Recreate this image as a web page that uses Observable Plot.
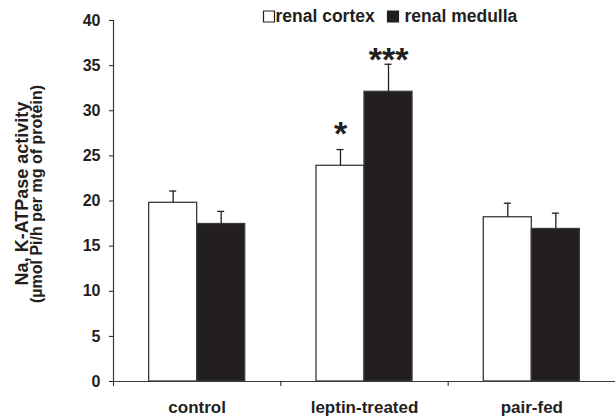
<!DOCTYPE html>
<html><head><meta charset="utf-8">
<script src="https://cdn.jsdelivr.net/npm/d3@7"></script>
<script src="https://cdn.jsdelivr.net/npm/@observablehq/plot@0.6"></script>
<style>
html,body{margin:0;padding:0;background:#fff;}
svg{display:block}
</style></head><body><div id="chart"></div>
<script>
const groups = ["control", "leptin-treated", "pair-fed"];
const seriesNames = ["renal cortex", "renal medulla"];
const cortexMean = [19.8, 23.9, 18.2];
const cortexSE = [1.3, 1.8, 1.55];
const medullaMean = [17.45, 32.1, 16.9];
const medullaSE = [1.4, 3.05, 1.75];
const cortexSig = ["", "*", ""];
const medullaSig = ["", "***", ""];
const yTicks = [0, 5, 10, 15, 20, 25, 30, 35, 40];
const yTitle = ["Na, K-ATPase activity", "(µmol Pi/h per mg of protein)"];

const ink = "#231f20";
const line = "#3a3a3a";
const HALF = 0.287;   // bar width, in category units
const CAP = 0.021;    // half cap width, in category units

const rows = groups.flatMap((g, i) => [
  {group: g, series: seriesNames[0], x1: i + 0.5 - HALF, x2: i + 0.5, mean: cortexMean[i], se: cortexSE[i], sig: cortexSig[i]},
  {group: g, series: seriesNames[1], x1: i + 0.5, x2: i + 0.5 + HALF, mean: medullaMean[i], se: medullaSE[i], sig: medullaSig[i]}
]);
rows.forEach(d => { d.xc = (d.x1 + d.x2) / 2; d.top = d.mean + d.se; });

const font = "'Liberation Sans', Arial, sans-serif";

const svg = Plot.plot({
  width: 615, height: 418,
  marginLeft: 113, marginRight: 0, marginTop: 20, marginBottom: 37,
  style: {fontFamily: font, fontWeight: "bold", color: ink, background: "white", overflow: "visible"},
  x: {type: "linear", domain: [0, groups.length], axis: null},
  y: {domain: [0, 40], axis: null},
  color: {domain: seriesNames, range: ["white", ink]},
  marks: [
    Plot.rect(rows, {x1: "x1", x2: "x2", y1: 0, y2: "mean", fill: "series", stroke: line, strokeWidth: 1.3}),
    Plot.ruleX(rows, {x: "xc", y1: "mean", y2: "top", stroke: ink, strokeWidth: 1.3}),
    Plot.ruleY(rows, {y: "top", x1: d => d.xc - CAP, x2: d => d.xc + CAP, stroke: ink, strokeWidth: 1.3}),
    Plot.text(rows.filter(d => d.series === seriesNames[0]), {x: "xc", y: "top", text: "sig", dy: -15, fontSize: 34, fill: ink}),
    Plot.text(rows.filter(d => d.series === seriesNames[1]), {x: "xc", y: "top", text: "sig", dy: -4.5, fontSize: 34, fill: ink}),
    Plot.ruleX([0], {stroke: line, strokeWidth: 1.2}),
    Plot.ruleY([0], {stroke: line, strokeWidth: 1.2}),
    Plot.axisY({ticks: yTicks, tickSize: 4, tickPadding: 9, fontSize: 16, label: null, color: ink}),
    Plot.axisX({ticks: d3.range(groups.length + 1), tickSize: 5, tickFormat: () => "", label: null, color: ink}),
    Plot.axisX({ticks: groups.map((g, i) => i + 0.5), tickSize: 0, tickPadding: 19, tickFormat: v => groups[Math.floor(v)], fontSize: 17, label: null, color: ink}),
    // legend
    Plot.dot([seriesNames[0]], {frameAnchor: "top-left", dx: 155.5, dy: -4, symbol: "square", r: 6.2, fill: d => d, stroke: ink, strokeWidth: 1.2}),
    Plot.text([seriesNames[0]], {frameAnchor: "top-left", dx: 162, dy: -4, text: d => d, textAnchor: "start", lineAnchor: "middle", fontSize: 17.5, fill: ink}),
    Plot.dot([seriesNames[1]], {frameAnchor: "top-left", dx: 279.5, dy: -4, symbol: "square", r: 6.2, fill: d => d, stroke: ink, strokeWidth: 1.2}),
    Plot.text([seriesNames[1]], {frameAnchor: "top-left", dx: 291, dy: -4, text: d => d, textAnchor: "start", lineAnchor: "middle", fontSize: 17.5, fill: ink})
  ]
});

// rotated y-axis title (two lines)
const titlePos = [{x: 28, y: 193.5, size: 18}, {x: 42, y: 194, size: 16}];
d3.select(svg).append("g")
  .attr("font-family", font).attr("font-weight", "bold").attr("fill", ink)
  .selectAll("text").data(yTitle).join("text")
  .attr("transform", (d, i) => `translate(${titlePos[i].x},${titlePos[i].y}) rotate(-90)`)
  .attr("text-anchor", "middle")
  .attr("font-size", (d, i) => titlePos[i].size)
  .text(d => d);

document.getElementById("chart").appendChild(svg);
</script>
</body></html>
